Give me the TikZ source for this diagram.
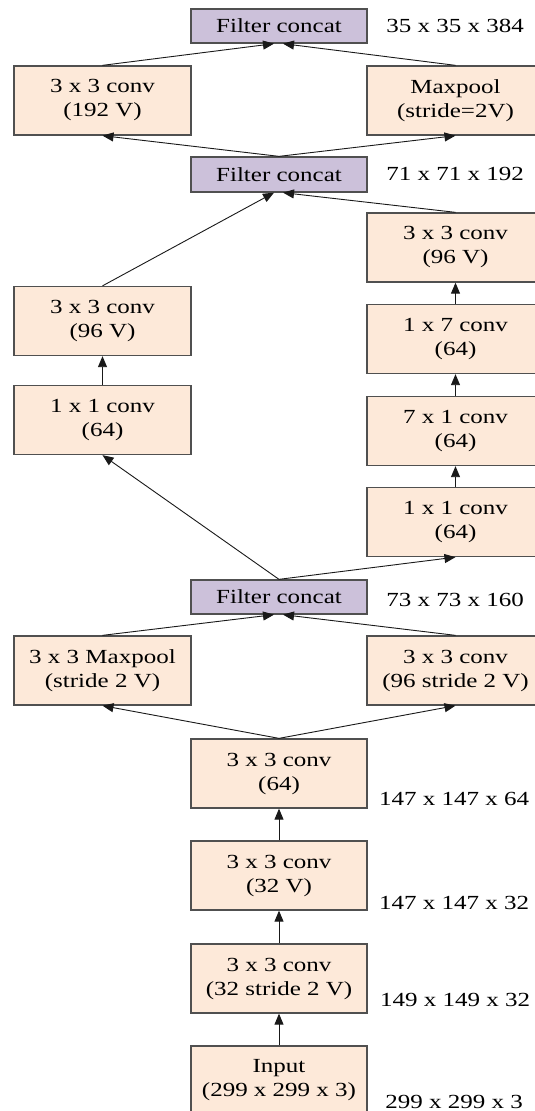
\documentclass[tikz,border=0pt]{standalone}
\usepackage{fontspec}
\setmainfont{Liberation Serif}[FakeStretch=1.25]
\usetikzlibrary{arrows.meta}
\definecolor{peach}{HTML}{FDE9D9}
\definecolor{lav}{HTML}{CCC1DA}
\definecolor{edge}{HTML}{505050}
\tikzset{
  box/.style={draw=edge, line width=1.3pt, fill=peach, minimum width=177pt, minimum height=69pt,
    inner sep=0pt, align=center, font=\fontsize{20}{24}\selectfont, text=black},
  cbox/.style={draw=edge, line width=1.3pt, fill=lav, minimum width=176pt, minimum height=34pt,
    inner sep=0pt, align=center, font=\fontsize{20}{24}\selectfont, text=black},
  dim/.style={font=\fontsize{20}{24}\selectfont, text=black, inner sep=0pt},
  arr/.style={draw=black!90, line width=0.9pt, -{Triangle[length=11pt,width=9pt]}}
}
\begin{document}
\begin{tikzpicture}[x=1pt,y=-1pt]
\clip (0,0) rectangle (535,1111);
\fill[white] (0,0) rectangle (535,1111);
% boxes
\node[cbox] (c1) at (279,26) {Filter concat};
\node[box] (l1) at (102.5,100.5) {3 x 3 conv\\(192 V)};
\node[box] (r1) at (455.5,100.5) {Maxpool\\(stride=2V)};
\node[cbox, minimum height=35pt] (c2) at (279,174.5) {Filter concat};
\node[box] (r2) at (455.5,247.5) {3 x 3 conv\\(96 V)};
\node[box] (l2) at (102.5,321) {3 x 3 conv\\(96 V)};
\node[box] (r3) at (455.5,339) {1 x 7 conv\\(64)};
\node[box] (l3) at (102.5,420) {1 x 1 conv\\(64)};
\node[box] (r4) at (455.5,431) {7 x 1 conv\\(64)};
\node[box] (r5) at (455.5,522) {1 x 1 conv\\(64)};
\node[cbox] (c3) at (279,597) {Filter concat};
\node[box] (l4) at (102.5,670.5) {3 x 3 Maxpool\\(stride 2 V)};
\node[box] (r6) at (455.5,670.5) {3 x 3 conv\\(96 stride 2 V)};
\node[box, minimum width=176pt] (m1) at (279,773.5) {3 x 3 conv\\(64)};
\node[box, minimum width=176pt] (m2) at (279,875.5) {3 x 3 conv\\(32 V)};
\node[box, minimum width=176pt] (m3) at (279,978.5) {3 x 3 conv\\(32 stride 2 V)};
\node[box, minimum width=176pt] (inp) at (279,1080.5) {Input\\(299 x 299 x 3)};
% dimension labels
\node[dim] (d1) at (455,26) {35 x 35 x 384};
\node[dim] (d2) at (455,174) {71 x 71 x 192};
\node[dim] (d3) at (455,600) {73 x 73 x 160};
\node[dim] (d4) at (454,799) {147 x 147 x 64};
\node[dim] (d5) at (454,903) {147 x 147 x 32};
\node[dim] (d6) at (455,1000) {149 x 149 x 32};
\node[dim] (d7) at (454,1102) {299 x 299 x 3};
% connectors
\draw[arr] (l1.north) -- ([xshift=-5pt]c1.south);
\draw[arr] (r1.north) -- ([xshift=4pt]c1.south);
\draw[arr] (c2.north) -- (l1.south);
\draw[arr] (c2.north) -- (r1.south);
\draw[arr] (l2.north) -- ([xshift=-5pt]c2.south);
\draw[arr] (r2.north) -- ([xshift=4pt]c2.south);
\draw[arr] (l3.north) -- (l2.south);
\draw[arr] (r3.north) -- (r2.south);
\draw[arr] (r4.north) -- (r3.south);
\draw[arr] (r5.north) -- (r4.south);
\draw[arr] (c3.north) -- (l3.south);
\draw[arr] (c3.north) -- (r5.south);
\draw[arr] (l4.north) -- ([xshift=-5pt]c3.south);
\draw[arr] (r6.north) -- ([xshift=4pt]c3.south);
\draw[arr] (m1.north) -- (l4.south);
\draw[arr] (m1.north) -- (r6.south);
\draw[arr] (m2.north) -- (m1.south);
\draw[arr] (m3.north) -- (m2.south);
\draw[arr] (inp.north) -- (m3.south);
\end{tikzpicture}
\end{document}
